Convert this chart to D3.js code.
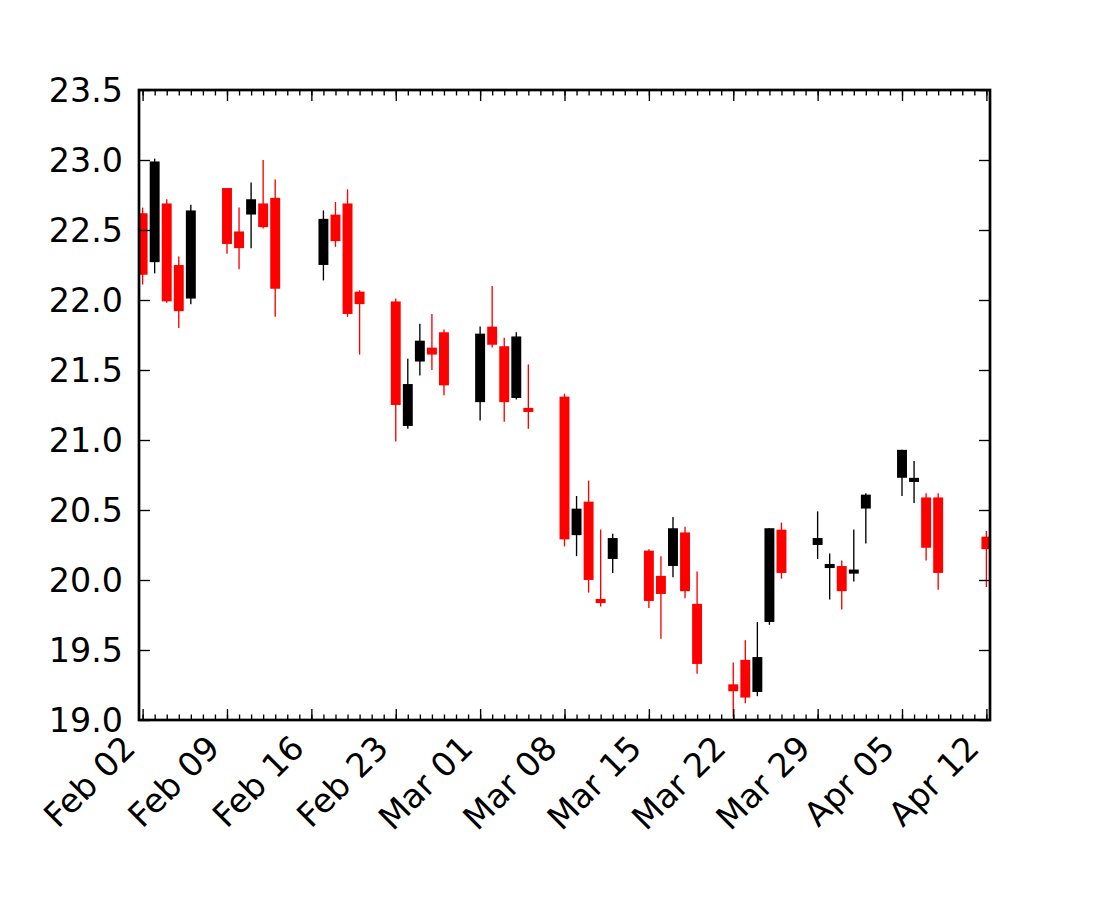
<!DOCTYPE html>
<html>
<head>
<meta charset="utf-8">
<script src="https://cdn.jsdelivr.net/npm/d3@7"></script>
<style>
  html, body { margin: 0; padding: 0; background: #fff; }
  svg { display: block; }
  text { font-family: "DejaVu Sans", sans-serif; fill: #000; }
</style>
</head>
<body>
<svg id="chart" width="1100" height="900"></svg>
<script>
// ---- data (INTC-like daily quotes, Feb 2 – Apr 12 2004) ----
const dates = [
  "2004-02-02","2004-02-03","2004-02-04","2004-02-05","2004-02-06",
  "2004-02-09","2004-02-10","2004-02-11","2004-02-12","2004-02-13",
  "2004-02-17","2004-02-18","2004-02-19","2004-02-20",
  "2004-02-23","2004-02-24","2004-02-25","2004-02-26","2004-02-27",
  "2004-03-01","2004-03-02","2004-03-03","2004-03-04","2004-03-05",
  "2004-03-08","2004-03-09","2004-03-10","2004-03-11","2004-03-12",
  "2004-03-15","2004-03-16","2004-03-17","2004-03-18","2004-03-19",
  "2004-03-22","2004-03-23","2004-03-24","2004-03-25","2004-03-26",
  "2004-03-29","2004-03-30","2004-03-31","2004-04-01","2004-04-02",
  "2004-04-05","2004-04-06","2004-04-07","2004-04-08",
  "2004-04-12"
];
const opens = [
  22.61, 22.28, 22.68, 22.24, 22.02,
  22.79, 22.48, 22.62, 22.68, 22.72,
  22.26, 22.60, 22.68, 22.05,
  21.98, 21.11, 21.57, 21.65, 21.76,
  21.28, 21.80, 21.66, 21.31, 21.22,
  21.30, 20.33, 20.55, 19.855, 20.16,
  20.20, 20.02, 20.11, 20.33, 19.82,
  19.245, 19.42, 19.21, 19.71, 20.35,
  20.26, 20.095, 20.09, 20.055, 20.52,
  20.74, 20.71, 20.58, 20.58,
  20.30
];
const highs = [
  22.66, 23.01, 22.72, 22.31, 22.68,
  22.80, 22.66, 22.84, 23.00, 22.86,
  22.64, 22.70, 22.79, 22.07,
  22.01, 21.58, 21.83, 21.90, 21.79,
  21.81, 22.10, 21.73, 21.77, 21.54,
  21.33, 20.60, 20.71, 20.36, 20.33,
  20.22, 20.17, 20.45, 20.38, 20.06,
  19.41, 19.57, 19.70, 20.37, 20.41,
  20.49, 20.19, 20.14, 20.36, 20.62,
  20.93, 20.85, 20.62, 20.62,
  20.35
];
const lows = [
  22.11, 22.19, 21.98, 21.80, 21.97,
  22.33, 22.22, 22.37, 22.51, 21.88,
  22.14, 22.38, 21.88, 21.61,
  20.99, 21.08, 21.46, 21.50, 21.32,
  21.14, 21.66, 21.13, 21.29, 21.08,
  20.24, 20.17, 19.91, 19.81, 20.05,
  19.80, 19.58, 20.02, 19.87, 19.33,
  19.02, 19.12, 19.17, 19.68, 20.01,
  20.15, 19.86, 19.79, 19.99, 20.26,
  20.60, 20.55, 20.14, 19.93,
  19.95
];
const closes = [
  22.19, 22.98, 22.00, 21.93, 22.63,
  22.41, 22.38, 22.71, 22.53, 22.09,
  22.57, 22.43, 21.91, 21.98,
  21.26, 21.39, 21.70, 21.62, 21.40,
  21.75, 21.69, 21.28, 21.73, 21.21,
  20.30, 20.50, 20.01, 19.845, 20.29,
  19.86, 19.91, 20.36, 19.93, 19.41,
  19.215, 19.17, 19.44, 20.36, 20.06,
  20.29, 20.105, 19.93, 20.065, 20.60,
  20.92, 20.72, 20.24, 20.06,
  20.23
];
const yTickValues = [19.0, 19.5, 20.0, 20.5, 21.0, 21.5, 22.0, 22.5, 23.0, 23.5];
const xStart = "2004-02-02";
const xEnd = "2004-04-12";
const candleWidthDays = 0.6;
const colorUp = "#000000";
const colorDown = "#ff0000";

// ---- layout ----
const L = 139, R = 990, T = 90, B = 720;
const FONT = "33.3px";
const DAY = 86400000;
const parse = d3.utcParse("%Y-%m-%d");
const quotes = dates.map((d, i) => ({
  t: parse(d), o: opens[i], h: highs[i], l: lows[i], c: closes[i]
}));

const t0 = parse(xStart), t1 = parse(xEnd);
const half = candleWidthDays / 2 * DAY;
const x = d3.scaleUtc()
  .domain([new Date(+t0 - half), new Date(+t1 + half)])
  .range([L, R]);
const y = d3.scaleLinear().domain([19.0, 23.5]).range([B, T]);

const svg = d3.select("#chart");
svg.append("rect").attr("width", 1100).attr("height", 900).attr("fill", "#fff");

svg.append("defs").append("clipPath").attr("id", "clip")
  .append("rect").attr("x", L).attr("y", T).attr("width", R - L).attr("height", B - T);

const plot = svg.append("g").attr("clip-path", "url(#clip)");

// bodies
plot.selectAll("rect.body").data(quotes).join("rect")
  .attr("class", "body")
  .attr("x", d => x(new Date(+d.t - half)))
  .attr("width", d => x(new Date(+d.t + half)) - x(new Date(+d.t - half)))
  .attr("y", d => y(Math.max(d.o, d.c)))
  .attr("height", d => Math.abs(y(d.o) - y(d.c)))
  .attr("fill", d => d.c >= d.o ? colorUp : colorDown)
  .attr("stroke", d => d.c >= d.o ? colorUp : colorDown)
  .attr("stroke-width", 2.7);

// wicks
plot.selectAll("line.wick").data(quotes).join("line")
  .attr("class", "wick")
  .attr("x1", d => x(d.t)).attr("x2", d => x(d.t))
  .attr("y1", d => y(d.l)).attr("y2", d => y(d.h))
  .attr("stroke", d => d.c >= d.o ? colorUp : colorDown)
  .attr("stroke-width", 1.35);

// ---- ticks ----
const mondays = d3.utcMonday.range(t0, new Date(+t1 + DAY));
const days = d3.utcDay.range(t0, new Date(+t1 + DAY));
const fmt = d3.utcFormat("%b %d");

function styleAxis(g) {
  g.select(".domain").remove();
  g.selectAll(".tick line").attr("stroke", "#000").attr("stroke-width", 1.35);
}

// minor x ticks bottom/top
svg.append("g").attr("transform", `translate(0,${B})`)
  .call(d3.axisBottom(x).tickValues(days).tickSize(-5.5).tickFormat(""))
  .call(styleAxis);
svg.append("g").attr("transform", `translate(0,${T})`)
  .call(d3.axisTop(x).tickValues(days).tickSize(-5.5).tickFormat(""))
  .call(styleAxis);

// major x ticks bottom with labels
const xb = svg.append("g").attr("transform", `translate(0,${B})`)
  .call(d3.axisBottom(x).tickValues(mondays).tickSize(-11).tickFormat(fmt))
  .call(styleAxis);
xb.selectAll(".tick text")
  .attr("x", 0).attr("y", 0).attr("dy", 0)
  .attr("text-anchor", "end")
  .attr("transform", "translate(-6,30) rotate(-45)")
  .style("font-size", FONT)
  .style("font-family", "'DejaVu Sans', sans-serif")
  .attr("fill", "#000");
svg.append("g").attr("transform", `translate(0,${T})`)
  .call(d3.axisTop(x).tickValues(mondays).tickSize(-11).tickFormat(""))
  .call(styleAxis);

// y ticks left with labels, right without
const yl = svg.append("g").attr("transform", `translate(${L},0)`)
  .call(d3.axisLeft(y).tickValues(yTickValues).tickSize(-11).tickPadding(16)
    .tickFormat(d3.format(".1f")))
  .call(styleAxis);
yl.selectAll(".tick text")
  .attr("dy", "0.33em")
  .style("font-size", FONT)
  .style("font-family", "'DejaVu Sans', sans-serif")
  .attr("fill", "#000");
svg.append("g").attr("transform", `translate(${R},0)`)
  .call(d3.axisRight(y).tickValues(yTickValues).tickSize(-11).tickFormat(""))
  .call(styleAxis);

// spines
svg.append("rect")
  .attr("x", L).attr("y", T).attr("width", R - L).attr("height", B - T)
  .attr("fill", "none").attr("stroke", "#000").attr("stroke-width", 2.7);
</script>
</body>
</html>
